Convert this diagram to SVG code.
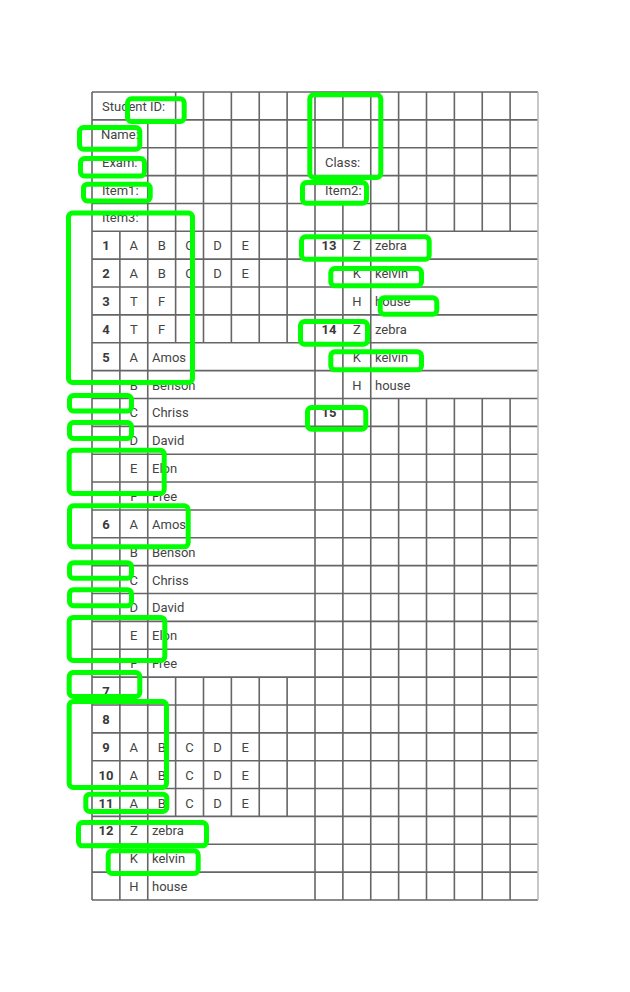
<svg xmlns="http://www.w3.org/2000/svg" width="630" height="992" viewBox="0 0 630 992">
<style>
.g{stroke:#666;stroke-width:1.6;fill:none}
.lb{stroke:#bbb;stroke-width:1.6}
text{font-family:Roboto,"Liberation Sans",sans-serif;font-size:13px;fill:#444}
.c{text-anchor:middle}
.n{font-weight:bold;text-anchor:middle;fill:#3a3a3a}
.hl{fill:none;stroke:#00ff00;stroke-width:5;rx:4}
</style>
<rect width="630" height="992" fill="#fff"/>
<g id="grid" class="g">
<path d="M92 92H538M92 119.86H538M92 147.72H538M92 175.59H538M92 203.45H538M92 231.31H538M92 259.17H538M92 287.03H538M92 314.90H538M92 342.76H538M92 370.62H538M92 398.48H538M92 426.34H538M92 454.21H538M92 482.07H538M92 509.93H538M92 537.79H538M92 565.66H538M92 593.52H538M92 621.38H538M92 649.24H538M92 677.10H538M92 704.97H538M92 732.83H538M92 760.69H538M92 788.55H538M92 816.41H538M92 844.28H538M92 872.14H538M92 900H538"/>
<path d="M92 92V900M315 92V900M370.75 92V900M119.875 231.31V900M147.75 119.86V900M175.625 92V342.76M203.5 92V342.76M231.375 92V342.76M259.25 92V342.76M287.125 92V342.76M175.625 677.10V816.41M203.5 677.10V816.41M231.375 677.10V816.41M259.25 677.10V816.41M287.125 677.10V816.41M342.875 92V147.72M342.875 203.45V900M398.625 92V231.31M426.5 92V231.31M454.375 92V231.31M482.25 92V231.31M510.125 92V231.31M398.625 398.48V900M426.5 398.48V900M454.375 398.48V900M482.25 398.48V900M510.125 398.48V900"/>
<path class="lb" d="M538 92V900"/>
</g>
<g id="labels">
<text x="102" y="111">Student ID:</text>
<text x="101" y="138.8">Name:</text>
<text x="102" y="166.7">Exam:</text>
<text x="325" y="166.7">Class:</text>
<text x="325" y="194.5">Item2:</text>
<text x="102" y="194.5">Item1:</text>
<text x="102" y="222.4">Item3:</text>
</g>
<g id="items-left">
<text class="n" x="105.94" y="250.2">1</text><text class="c" x="133.81" y="250.2">A</text><text class="c" x="161.69" y="250.2">B</text><text class="c" x="189.56" y="250.2">C</text><text class="c" x="217.44" y="250.2">D</text><text class="c" x="245.31" y="250.2">E</text>
<text class="n" x="105.94" y="278.1">2</text><text class="c" x="133.81" y="278.1">A</text><text class="c" x="161.69" y="278.1">B</text><text class="c" x="189.56" y="278.1">C</text><text class="c" x="217.44" y="278.1">D</text><text class="c" x="245.31" y="278.1">E</text>
<text class="n" x="105.94" y="306">3</text><text class="c" x="133.81" y="306">T</text><text class="c" x="161.69" y="306">F</text>
<text class="n" x="105.94" y="333.8">4</text><text class="c" x="133.81" y="333.8">T</text><text class="c" x="161.69" y="333.8">F</text>
<text class="n" x="105.94" y="361.7">5</text><text class="c" x="133.81" y="361.7">A</text><text x="152" y="361.7">Amos</text>
<text class="c" x="133.81" y="389.6">B</text><text x="152" y="389.6">Benson</text>
<text class="c" x="133.81" y="417.4">C</text><text x="152" y="417.4">Chriss</text>
<text class="c" x="133.81" y="445.3">D</text><text x="152" y="445.3">David</text>
<text class="c" x="133.81" y="473.1">E</text><text x="152" y="473.1">Elon</text>
<text class="c" x="133.81" y="501">F</text><text x="152" y="501">Free</text>
<text class="n" x="105.94" y="528.9">6</text><text class="c" x="133.81" y="528.9">A</text><text x="152" y="528.9">Amos</text>
<text class="c" x="133.81" y="556.7">B</text><text x="152" y="556.7">Benson</text>
<text class="c" x="133.81" y="584.6">C</text><text x="152" y="584.6">Chriss</text>
<text class="c" x="133.81" y="612.4">D</text><text x="152" y="612.4">David</text>
<text class="c" x="133.81" y="640.3">E</text><text x="152" y="640.3">Elon</text>
<text class="c" x="133.81" y="668.2">F</text><text x="152" y="668.2">Free</text>
<text class="n" x="105.94" y="696">7</text>
<text class="n" x="105.94" y="723.9">8</text>
<text class="n" x="105.94" y="751.8">9</text><text class="c" x="133.81" y="751.8">A</text><text class="c" x="161.69" y="751.8">B</text><text class="c" x="189.56" y="751.8">C</text><text class="c" x="217.44" y="751.8">D</text><text class="c" x="245.31" y="751.8">E</text>
<text class="n" x="105.94" y="779.6">10</text><text class="c" x="133.81" y="779.6">A</text><text class="c" x="161.69" y="779.6">B</text><text class="c" x="189.56" y="779.6">C</text><text class="c" x="217.44" y="779.6">D</text><text class="c" x="245.31" y="779.6">E</text>
<text class="n" x="105.94" y="807.5">11</text><text class="c" x="133.81" y="807.5">A</text><text class="c" x="161.69" y="807.5">B</text><text class="c" x="189.56" y="807.5">C</text><text class="c" x="217.44" y="807.5">D</text><text class="c" x="245.31" y="807.5">E</text>
<text class="n" x="105.94" y="835.3">12</text><text class="c" x="133.81" y="835.3">Z</text><text x="152" y="835.3">zebra</text>
<text class="c" x="133.81" y="863.2">K</text><text x="152" y="863.2">kelvin</text>
<text class="c" x="133.81" y="891.1">H</text><text x="152" y="891.1">house</text>
</g>
<g id="items-right">
<text class="n" x="328.94" y="250.2">13</text><text class="c" x="356.81" y="250.2">Z</text><text x="375" y="250.2">zebra</text>
<text class="c" x="356.81" y="278.1">K</text><text x="375" y="278.1">kelvin</text>
<text class="c" x="356.81" y="306">H</text><text x="375" y="306">house</text>
<text class="n" x="328.94" y="333.8">14</text><text class="c" x="356.81" y="333.8">Z</text><text x="375" y="333.8">zebra</text>
<text class="c" x="356.81" y="361.7">K</text><text x="375" y="361.7">kelvin</text>
<text class="c" x="356.81" y="389.6">H</text><text x="375" y="389.6">house</text>
<text class="n" x="328.94" y="417.4">15</text>
</g>
<g id="highlights">
<rect class="hl" x="127.5" y="98.8" width="56.7" height="22.7"/>
<rect class="hl" x="79.5" y="127.5" width="60.3" height="21.7"/>
<rect class="hl" x="80.5" y="158.5" width="64" height="17.5"/>
<rect class="hl" x="83.5" y="184.2" width="66.7" height="16.7"/>
<rect class="hl" x="68.5" y="213" width="124" height="169.5"/>
<rect class="hl" x="309.8" y="94.8" width="71" height="82.7"/>
<rect class="hl" x="302.5" y="182.5" width="64" height="20.7"/>
<rect class="hl" x="301.5" y="236.8" width="127.7" height="22.4"/>
<rect class="hl" x="330.8" y="268.5" width="90.7" height="17.3"/>
<rect class="hl" x="380.2" y="297.8" width="56.6" height="16.4"/>
<rect class="hl" x="300.5" y="321.5" width="67" height="22.7"/>
<rect class="hl" x="330.8" y="351.8" width="90.7" height="18"/>
<rect class="hl" x="307.5" y="407.5" width="58.3" height="21.7"/>
<rect class="hl" x="69.5" y="395.5" width="62" height="15.5"/>
<rect class="hl" x="69.5" y="422.5" width="62" height="16"/>
<rect class="hl" x="69.2" y="450.2" width="95" height="43.3"/>
<rect class="hl" x="69.5" y="505.8" width="118.7" height="41"/>
<rect class="hl" x="69.5" y="562.7" width="62" height="15.5"/>
<rect class="hl" x="69.5" y="589.7" width="62" height="16"/>
<rect class="hl" x="69.2" y="617.4" width="95.6" height="43"/>
<rect class="hl" x="69.2" y="672.5" width="70.6" height="24"/>
<rect class="hl" x="69.2" y="701.5" width="97.3" height="86"/>
<rect class="hl" x="85.8" y="794.2" width="81" height="17.3"/>
<rect class="hl" x="78.5" y="822.5" width="128" height="23.3"/>
<rect class="hl" x="108.2" y="850.8" width="90" height="22.7"/>
</g>
</svg>
